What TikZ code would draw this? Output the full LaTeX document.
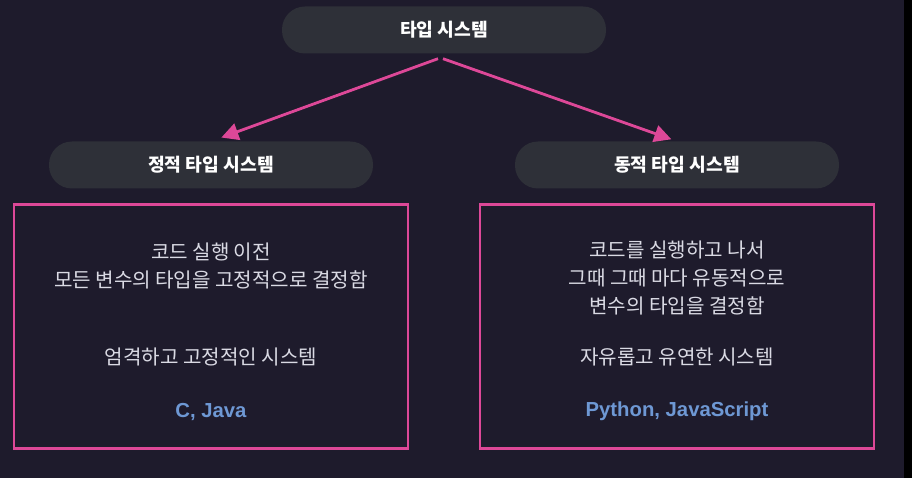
\documentclass[tikz,border=0pt]{standalone}
\usepackage{fontspec}
\setmainfont{Noto Sans CJK KR}
\newfontfamily\latinfont{Liberation Sans}
\usepackage{xcolor}
\usetikzlibrary{positioning,calc,arrows.meta}

\definecolor{bgnavy}{RGB}{30,27,44}
\definecolor{pillgray}{RGB}{46,48,56}
\definecolor{hotpink}{RGB}{221,72,152}
\definecolor{langblue}{RGB}{110,152,212}
\definecolor{bodygray}{RGB}{218,218,228}

\begin{document}
\begin{tikzpicture}[x=1pt, y=-1pt, >=Stealth,
    pill/.style={fill=pillgray, rounded corners=23pt, minimum width=324pt, minimum height=47pt,
                 text=white, inner sep=0pt, font=\fontsize{18.2}{21}\selectfont\bfseries},
    card/.style={draw=hotpink, line width=2.6pt, minimum width=394pt, minimum height=244pt, inner sep=0pt},
    desc/.style={text=bodygray, align=center, font=\fontsize{20.1}{28}\selectfont},
    lang/.style={text=langblue, font=\latinfont\bfseries\fontsize{20.3}{23}\selectfont},
    arr/.style={-{Triangle[length=17pt, width=17pt]}, line width=2.8pt, draw=hotpink}]
    \fill[bgnavy] (0,0) rectangle (912,478);
    \fill[black] (904,0) rectangle (912,478);
    \useasboundingbox (0,0) rectangle (912,478);

    \node[pill] (root) at (444,30) {타입 시스템};
    \node[pill] (static) at (211,165) {정적 타입 시스템};
    \node[pill] (dynamic) at (677,165) {동적 타입 시스템};
    \node[card, below=14.5pt of static] (sbox) {};
    \node[card, below=14.5pt of dynamic] (dbox) {};

    \node[desc] (sdesc) at ($(sbox.north)+(0,63)$) {코드 실행 이전\\모든 변수의 타입을 고정적으로 결정함};
    \node[desc] (strait) at ($(sbox.north)+(0,154)$) {엄격하고 고정적인 시스템};
    \node[lang] (slang) at ($(sbox.north)+(0,209)$) {C, Java};

    \node[desc] (ddesc) at ($(dbox.north)+(0,75)$) {코드를 실행하고 나서\\그때 그때 마다 유동적으로\\변수의 타입을 결정함};
    \node[desc] (dtrait) at ($(dbox.north)+(0,154)$) {자유롭고 유연한 시스템};
    \node[lang] (dlang) at ($(dbox.north)+(0,208)$) {Python, JavaScript};

    \draw[arr, shorten >=11pt] ([xshift=-6pt, yshift=-5pt]root.south) -- (static.north);
    \draw[arr, shorten >=6pt] ([xshift=-1pt, yshift=-5pt]root.south) -- (dynamic.north);
\end{tikzpicture}
\end{document}
